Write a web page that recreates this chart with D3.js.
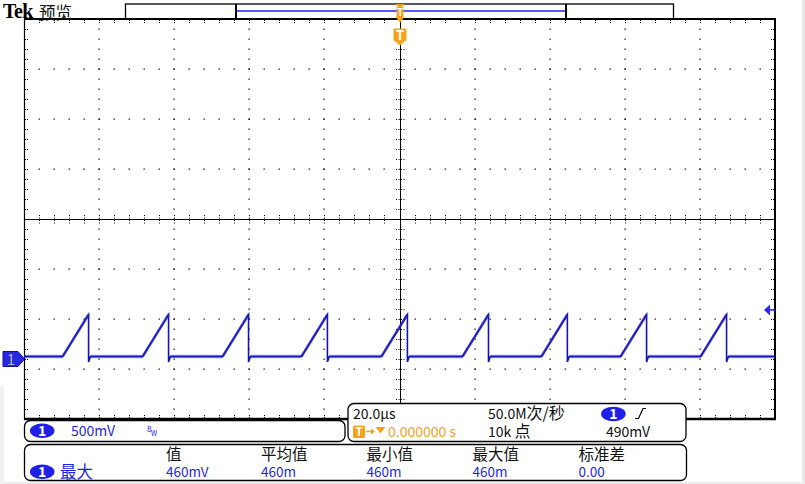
<!DOCTYPE html>
<html><head><meta charset="utf-8">
<script src="https://cdn.jsdelivr.net/npm/d3@7"></script>
<style>body{margin:0;background:#fff;overflow:hidden}svg{display:block}</style>
</head><body>
<svg id="c" width="805" height="484"></svg>
<script>
// ---- data ----
const timeRangeUs = [-100, 100];          // 20.0 µs/div, 10 div
const voltRange = [-0.6, 3.4];            // 500 mV/div, 8 div (ground at 0)
const rampStartUs = [-89.7, -68.4, -47.1, -26.1, -4.8, 16.8, 37.8, 58.9, 80.2];
const fallUs      = [-82.8, -61.5, -40.2, -19.2, 2.1, 23.7, 44.7, 65.8, 87.1];
const baseV = 0.025;
const peakV = 0.445;
const undershootV = -0.03;
const trigLevelV = 0.49;
const chLabel = "1";
const scaleText = "500mV";
const timebaseText = "20.0µs";
const sampleRateText = ["50.0M", "次/秒"];
const recordText = ["10k ", "点"];
const trigPosText = "0.000000 s";
const trigLevelText = "490mV";
const measHeaders = ["值", "平均值", "最小值", "最大值", "标准差"];
const measValues = ["460mV", "460m", "460m", "460m", "0.00"];
const measName = "最大";

// ---- setup ----
const svg = d3.select("#c");
const L = 24, R = 775, T = 19, B = 419;
const x = d3.scaleLinear().domain(timeRangeUs).range([L, R]);
const y = d3.scaleLinear().domain(voltRange).range([B, T]);
const BLUE = "#1f1fe6", WAVE = "#1414b0", ORANGE = "#f5a21c";
const FONT = "'Noto Sans CJK SC','Noto Sans',sans-serif";

// faint window edges
svg.append("rect").attr("x", 802).attr("y", 0).attr("width", 3).attr("height", 484).attr("fill", "#e9e9e9");
svg.append("rect").attr("x", 0).attr("y", 482).attr("width", 805).attr("height", 2).attr("fill", "#ececec");
svg.append("rect").attr("x", 0).attr("y", 385).attr("width", 4).attr("height", 99).attr("fill", "#f2f2f2");

// ---- grid ----
const g = svg.append("g");
const majorT = d3.range(0, 11).map(i => timeRangeUs[0] + i * 20);
const majorV = d3.range(0, 9).map(j => voltRange[0] + j * 0.5);
const minorT = d3.range(0, 51).map(k => timeRangeUs[0] + k * 4);
const minorV = d3.range(0, 41).map(k => voltRange[0] + k * 0.1);

majorT.slice(1, -1).forEach((t, i) => {
  if (i + 1 === 5) return;
  minorV.slice(1, -1).forEach(v => {
    g.append("rect").attr("x", Math.round(x(t)) - 0.5).attr("y", Math.round(y(v)) - 0.5)
      .attr("width", 1.2).attr("height", 1.4).attr("fill", "#111");
  });
});
majorV.slice(1, -1).forEach((v, j) => {
  if (j + 1 === 4) return;
  minorT.slice(1, -1).forEach(t => {
    g.append("rect").attr("x", Math.round(x(t)) - 0.5).attr("y", Math.round(y(v)) - 0.5)
      .attr("width", 1.4).attr("height", 1.2).attr("fill", "#111");
  });
});
const cx0 = Math.round(x(0)), cy0 = Math.round(y(1.4));
g.append("line").attr("x1", cx0 + 0.5).attr("x2", cx0 + 0.5).attr("y1", T).attr("y2", B).attr("stroke", "#000").attr("stroke-width", 1);
g.append("line").attr("x1", L).attr("x2", R).attr("y1", cy0 + 0.5).attr("y2", cy0 + 0.5).attr("stroke", "#000").attr("stroke-width", 1);
minorV.slice(1, -1).forEach(v => {
  const yy = Math.round(y(v)) + 0.5;
  g.append("line").attr("x1", cx0 - 4).attr("x2", cx0 + 5).attr("y1", yy).attr("y2", yy)
    .attr("stroke", "#000").attr("stroke-width", 1).attr("stroke-dasharray", "1,1.5");
});
minorT.slice(1, -1).forEach(t => {
  const xx = Math.round(x(t)) + 0.5;
  g.append("line").attr("y1", cy0 - 4).attr("y2", cy0 + 5).attr("x1", xx).attr("x2", xx)
    .attr("stroke", "#000").attr("stroke-width", 1).attr("stroke-dasharray", "1,1.5");
});
minorT.slice(1, -1).forEach(t => {
  const xx = Math.round(x(t)) + 0.5;
  g.append("line").attr("x1", xx).attr("x2", xx).attr("y1", T + 1).attr("y2", T + 4).attr("stroke", "#000").attr("stroke-dasharray", "1,1");
  g.append("line").attr("x1", xx).attr("x2", xx).attr("y1", B - 4).attr("y2", B - 1).attr("stroke", "#000").attr("stroke-dasharray", "1,1");
});
minorV.slice(1, -1).forEach(v => {
  const yy = Math.round(y(v)) + 0.5;
  g.append("line").attr("y1", yy).attr("y2", yy).attr("x1", L + 1).attr("x2", L + 4).attr("stroke", "#000").attr("stroke-dasharray", "1,1");
  g.append("line").attr("y1", yy).attr("y2", yy).attr("x1", R - 4).attr("x2", R - 1).attr("stroke", "#000").attr("stroke-dasharray", "1,1");
});
g.append("line").attr("x1", L).attr("x2", R + 1).attr("y1", T).attr("y2", T).attr("stroke", "#000").attr("stroke-width", 2);
g.append("line").attr("x1", L).attr("x2", R + 1).attr("y1", B).attr("y2", B).attr("stroke", "#000").attr("stroke-width", 2.5);
g.append("line").attr("x1", L + 0.5).attr("x2", L + 0.5).attr("y1", T).attr("y2", B).attr("stroke", "#000").attr("stroke-width", 1.2);
g.append("line").attr("x1", R).attr("x2", R).attr("y1", T).attr("y2", B).attr("stroke", "#000").attr("stroke-width", 2);

// ---- waveform ----
const pts = [[timeRangeUs[0], baseV]];
rampStartUs.forEach((s, i) => {
  pts.push([s, baseV], [fallUs[i], peakV], [fallUs[i], undershootV], [fallUs[i] + 0.5, baseV]);
});
pts.push([timeRangeUs[1], baseV]);
const flats = [[timeRangeUs[0], rampStartUs[0]]];
fallUs.forEach((f, i) => flats.push([f + 0.5, i + 1 < rampStartUs.length ? rampStartUs[i + 1] : timeRangeUs[1]]));
flats.forEach(([a, b]) => {
  svg.append("line").attr("x1", x(a)).attr("x2", x(b)).attr("y1", y(baseV)).attr("y2", y(baseV))
    .attr("stroke", "#3030e0").attr("stroke-width", 3.4).attr("opacity", 0.5);
});
const line = d3.line().x(d => x(d[0])).y(d => y(d[1]));
svg.append("path").attr("d", line(pts)).attr("fill", "none").attr("stroke", WAVE)
  .attr("stroke-width", 1.6).attr("stroke-linejoin", "miter");
rampStartUs.forEach((s, i) => {
  svg.append("line").attr("x1", x(s)).attr("y1", y(baseV)).attr("x2", x(fallUs[i])).attr("y2", y(peakV))
    .attr("stroke", "#2020cc").attr("stroke-width", 2.6).attr("opacity", 0.7);
});

// ---- ground marker (left) ----
const gy = y(0);
svg.append("path").attr("d", `M3,${gy - 7.5}L18,${gy - 7.5}L24.5,${gy}L18,${gy + 7.5}L3,${gy + 7.5}Z`)
  .attr("fill", "#2828e0").attr("stroke", "#1010a0").attr("stroke-width", 1);
svg.append("text").attr("x", 11).attr("y", gy + 5.5).attr("text-anchor", "middle")
  .attr("font-family", FONT).attr("font-size", 15).attr("fill", "#b4b4c8").text(chLabel);

// ---- trigger level marker (right) ----
const ty = y(trigLevelV);
svg.append("path").attr("d", `M764,${ty}L770,${ty - 5.5}L770,${ty + 5.5}Z`).attr("fill", "#2a2aee");
svg.append("line").attr("x1", 769).attr("x2", R).attr("y1", ty).attr("y2", ty).attr("stroke", "#2a2aee").attr("stroke-width", 1.5);

// ---- top header ----
svg.append("text").attr("x", 3).attr("y", 17.5).attr("font-family", "'Liberation Serif',serif")
  .attr("font-weight", "bold").attr("font-size", 20).attr("letter-spacing", -0.6).attr("fill", "#000").text("Tek");
svg.append("text").attr("x", 39).attr("y", 18.5).attr("font-family", FONT)
  .attr("font-size", 16.5).attr("fill", "#111").text("预览");

svg.append("rect").attr("x", 125.5).attr("y", 4).attr("width", 548).attr("height", 15).attr("fill", "#fff").attr("stroke", "#000").attr("stroke-width", 1.3);
const bx1 = 236, bx2 = 566;
svg.append("line").attr("x1", bx1).attr("x2", bx2).attr("y1", 11).attr("y2", 11).attr("stroke", "#2020ff").attr("stroke-width", 1.3);
[bx1, bx2].forEach(bx => {
  svg.append("line").attr("x1", bx).attr("x2", bx).attr("y1", 4).attr("y2", 19).attr("stroke", "#000").attr("stroke-width", 2);
});
svg.append("line").attr("x1", 125).attr("x2", 675).attr("y1", 19).attr("y2", 19).attr("stroke", "#000").attr("stroke-width", 2);

const tx = x(0) + 0.5;
svg.append("path").attr("d",
  `M${tx - 4.5},4L${tx + 4.5},4L${tx + 2},7L${tx + 3.5},7L${tx + 3.5},17L${tx + 4.5},17L${tx},22.5L${tx - 4.5},17L${tx - 3.5},17L${tx - 3.5},7L${tx - 2},7Z`)
  .attr("fill", ORANGE);
svg.append("text").attr("x", tx).attr("y", 16).attr("text-anchor", "middle").attr("font-family", FONT)
  .attr("font-weight", "bold").attr("font-size", 10).attr("fill", "#fff").text("T");
svg.append("path").attr("d", `M${tx - 6.5},28.5L${tx + 6.5},28.5L${tx + 6.5},40L${tx},45.5L${tx - 6.5},40Z`).attr("fill", ORANGE);
svg.append("text").attr("x", tx).attr("y", 40).attr("text-anchor", "middle").attr("font-family", FONT)
  .attr("font-weight", "bold").attr("font-size", 13).attr("fill", "#fff").text("T");

// ---- bottom panels ----
function panel(x0, y0, w, h) {
  svg.append("rect").attr("x", x0).attr("y", y0).attr("width", w).attr("height", h).attr("rx", 6).attr("ry", 6)
    .attr("fill", "#fff").attr("stroke", "#000").attr("stroke-width", 1.3);
}
function badge(cx, cy) {
  svg.append("ellipse").attr("cx", cx).attr("cy", cy).attr("rx", 12.3).attr("ry", 7.3).attr("fill", BLUE);
  svg.append("text").attr("x", cx).attr("y", cy + 5).attr("text-anchor", "middle").attr("font-family", FONT)
    .attr("font-weight", "bold").attr("font-size", 14).attr("fill", "#fff").text(chLabel);
}
function txt(x0, y0, s, col, size) {
  return svg.append("text").attr("x", x0).attr("y", y0).attr("font-family", FONT)
    .attr("font-size", size || 14).attr("fill", col || "#111").text(s);
}

panel(24.5, 420.5, 320.5, 21);
badge(42.2, 430.8);
txt(71, 436, scaleText, BLUE);
txt(147, 432, "B", BLUE, 7);
txt(151, 436, "W", BLUE, 7);

panel(348, 403.5, 338, 38);
txt(353, 418.5, timebaseText);
const sr = txt(488, 418.5, sampleRateText[0]);
sr.append("tspan").attr("font-size", 16).text(sampleRateText[1]);
badge(613.4, 414);
svg.append("path").attr("d", "M635,418.5L638.5,418.5L643,408.5L646,408.5").attr("fill", "none").attr("stroke", "#000").attr("stroke-width", 1.2);
svg.append("rect").attr("x", 353).attr("y", 425.5).attr("width", 12).attr("height", 12.5).attr("rx", 1.5).attr("fill", ORANGE);
svg.append("text").attr("x", 359).attr("y", 436).attr("text-anchor", "middle").attr("font-family", FONT)
  .attr("font-weight", "bold").attr("font-size", 12).attr("fill", "#fff").text("T");
svg.append("line").attr("x1", 366).attr("x2", 372).attr("y1", 431.5).attr("y2", 431.5).attr("stroke", ORANGE).attr("stroke-width", 1.6);
svg.append("path").attr("d", "M371,428.5L375,431.5L371,434.5Z").attr("fill", ORANGE);
svg.append("path").attr("d", "M375.5,427L385.5,427L380.5,433.5Z").attr("fill", ORANGE);
txt(388, 436.5, trigPosText, ORANGE);
const rl = txt(488, 436.5, recordText[0]);
rl.append("tspan").attr("font-size", 16).text(recordText[1]);
txt(606, 436.5, trigLevelText);

panel(24.5, 444.5, 662, 36);
const colX = [166, 261, 366.5, 472.5, 578.5];
measHeaders.forEach((h, i) => txt(colX[i], 460, h, "#111", 15.5));
measValues.forEach((v, i) => txt(colX[i], 476.5, v, BLUE, 13.5));
badge(42.2, 471.8);
txt(60, 477.5, measName, BLUE, 16.5);
</script>
</body></html>
